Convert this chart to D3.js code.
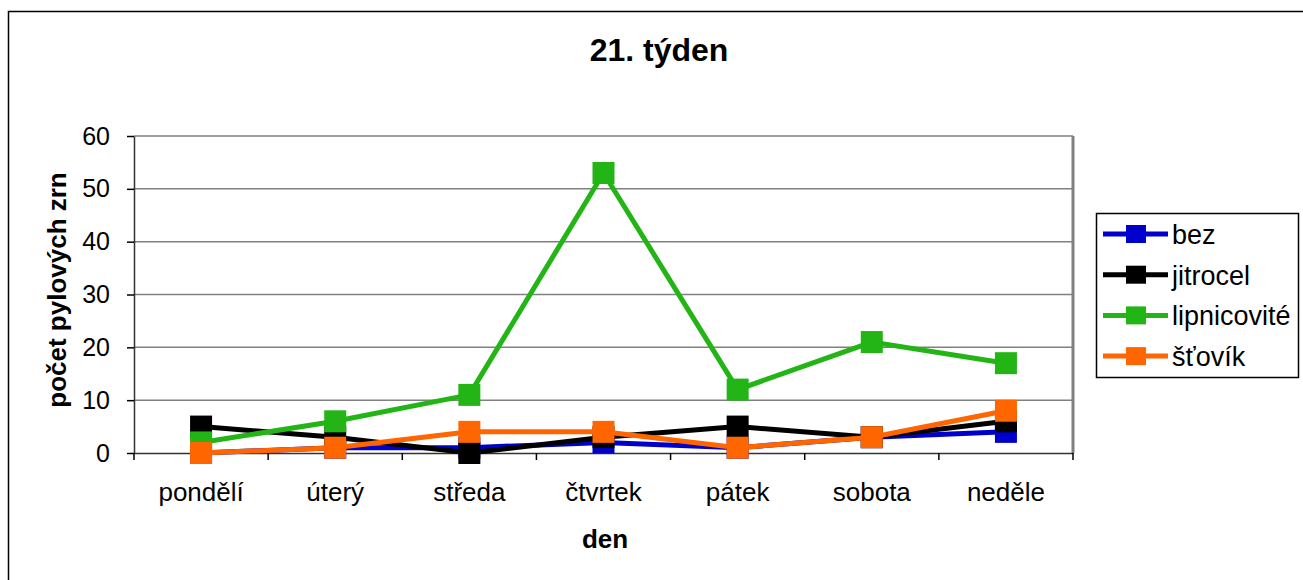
<!DOCTYPE html>
<meta charset="utf-8">
<script src="https://d3js.org/d3.v7.min.js"></script>
<style>
  body { margin: 0; background: #fff; }
  text { font-family: "Liberation Sans", Arial, sans-serif; }
</style>
<div id="chart"></div>
<script>
// days and the counts of each pollen type
const days = ["pondělí", "úterý", "středa", "čtvrtek", "pátek", "sobota", "neděle"];
const bez = [0, 1, 1, 2, 1, 3, 4];
const jitrocel = [5, 3, 0, 3, 5, 3, 6];
const lipnicovite = [2, 6, 11, 53, 12, 21, 17];
const stovik = [0, 1, 4, 4, 1, 3, 8];
const yTicks = [0, 10, 20, 30, 40, 50, 60];

const series = [
  {name: "bez", values: bez, color: "#0000cc"},
  {name: "jitrocel", values: jitrocel, color: "#000000"},
  {name: "lipnicovité", values: lipnicovite, color: "#22b515"},
  {name: "šťovík", values: stovik, color: "#ff6600"}
];

const W = 1303, H = 580;
const margin = {top: 136, left: 134},
      width = 1073 - margin.left,
      height = 453 - margin.top;

const root = d3.select("#chart").append("svg")
  .attr("width", W).attr("height", H);

// outer chart border
root.append("rect")
  .attr("x", 8.5).attr("y", 11.5)
  .attr("width", W).attr("height", H)
  .attr("fill", "none").attr("stroke", "#000").attr("stroke-width", 1.5);

root.append("text")
  .attr("x", 659).attr("y", 61)
  .attr("text-anchor", "middle")
  .style("font-size", "32px").style("font-weight", "bold")
  .text("21. týden");

const svg = root.append("g")
  .attr("transform", `translate(${margin.left}, ${margin.top})`);

const x = d3.scaleBand().domain(days).range([0, width]);
const y = d3.scaleLinear().domain([0, 60]).range([height, 0]);

// grid lines
svg.append("g")
  .selectAll("line")
  .data(yTicks.slice(1))
  .join("line")
    .attr("x1", 0).attr("x2", width)
    .attr("y1", d => y(d)).attr("y2", d => y(d))
    .attr("stroke", "#808080").attr("stroke-width", 1.5);

// plot area right border
svg.append("line")
  .attr("x1", width).attr("x2", width)
  .attr("y1", 0).attr("y2", height)
  .attr("stroke", "#808080").attr("stroke-width", 3);

// y axis
const yAxis = svg.append("g")
  .call(d3.axisLeft(y).tickValues(yTicks).tickSize(7).tickPadding(17).tickSizeOuter(0));
yAxis.select(".domain").attr("stroke", "#333").attr("stroke-width", 1.5);
yAxis.selectAll(".tick line").attr("stroke", "#000").attr("stroke-width", 1.5);
yAxis.selectAll("text").style("font-size", "25px").attr("fill", "#000")
  .attr("font-family", "Liberation Sans, Arial, sans-serif");

// x axis with ticks at category boundaries
const xAxis = svg.append("g")
  .attr("transform", `translate(0, ${height})`)
  .call(d3.axisBottom(x).tickSize(0).tickPadding(0));
xAxis.select(".domain").attr("stroke", "#333").attr("stroke-width", 1.5);
xAxis.selectAll("text").style("font-size", "26px").attr("fill", "#000")
  .attr("dy", null).attr("y", 48)
  .attr("font-family", "Liberation Sans, Arial, sans-serif");
xAxis.append("g")
  .selectAll("line")
  .data(d3.range(days.length + 1))
  .join("line")
    .attr("x1", i => i * x.bandwidth()).attr("x2", i => i * x.bandwidth())
    .attr("y1", 0).attr("y2", 7)
    .attr("stroke", "#000").attr("stroke-width", 1.5);

// axis titles
svg.append("text")
  .attr("x", 605 - margin.left).attr("y", 548 - margin.top)
  .attr("text-anchor", "middle")
  .style("font-size", "26px").style("font-weight", "bold")
  .text("den");

svg.append("text")
  .attr("transform", "rotate(-90)")
  .attr("x", -(290 - margin.top)).attr("y", 66 - margin.left)
  .attr("text-anchor", "middle")
  .style("font-size", "26px").style("font-weight", "bold")
  .text("počet pylových zrn");

// lines and markers
const line = d3.line()
  .x((d, i) => x(days[i]) + x.bandwidth() / 2)
  .y(d => y(d));

const ms = 22;
series.forEach(s => {
  svg.append("path")
    .datum(s.values)
    .attr("d", line)
    .attr("fill", "none")
    .attr("stroke", s.color)
    .attr("stroke-width", 5);
  svg.append("g")
    .selectAll("rect")
    .data(s.values)
    .join("rect")
      .attr("x", (d, i) => x(days[i]) + x.bandwidth() / 2 - ms / 2)
      .attr("y", d => y(d) - ms / 2)
      .attr("width", ms).attr("height", ms)
      .attr("fill", s.color);
});

// legend
const legend = root.append("g").attr("transform", "translate(1096, 213)");
legend.append("rect")
  .attr("x", 0.5).attr("y", 0.5)
  .attr("width", 202).attr("height", 164)
  .attr("fill", "#fff").attr("stroke", "#000").attr("stroke-width", 1.5);

const item = legend.selectAll(".item")
  .data(series)
  .join("g")
    .attr("transform", (d, i) => `translate(0, ${21 + i * 40.7})`);
item.append("line")
  .attr("x1", 7).attr("x2", 72)
  .attr("stroke", d => d.color).attr("stroke-width", 5);
item.append("rect")
  .attr("x", 30).attr("y", -9).attr("width", 20).attr("height", 18)
  .attr("fill", d => d.color);
item.append("text")
  .attr("x", 76).attr("y", 10)
  .style("font-size", "27px")
  .text(d => d.name);
</script>
